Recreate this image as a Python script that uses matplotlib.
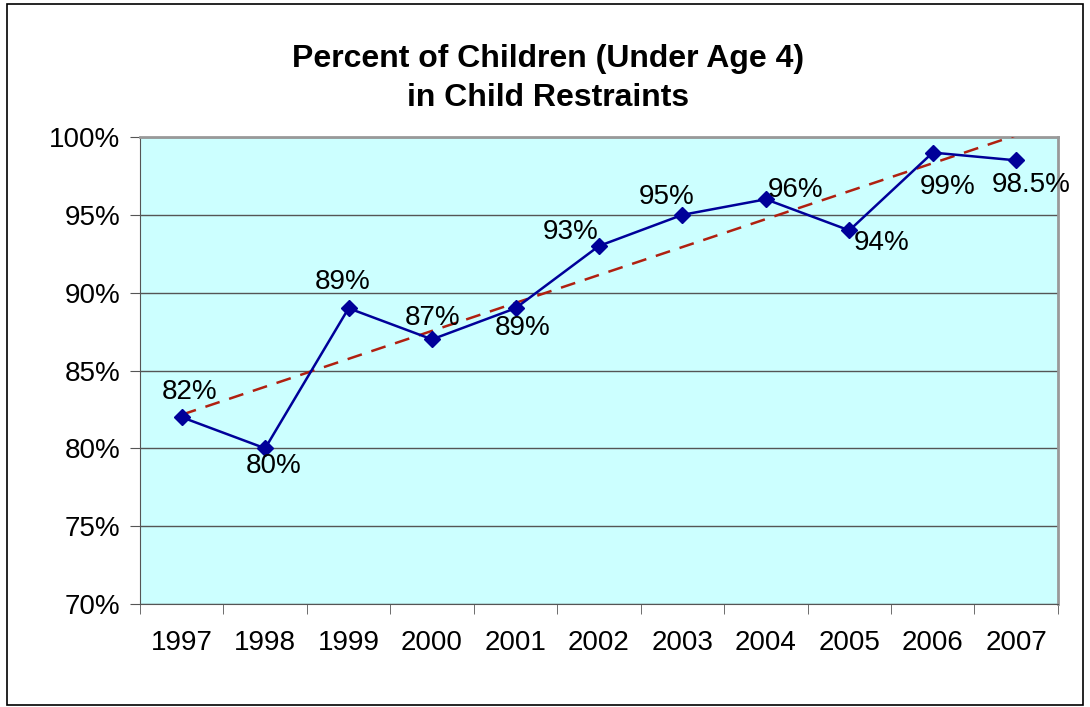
import numpy as np
import matplotlib.pyplot as plt
from matplotlib.patches import Rectangle

plt.rcParams['font.family'] = ['Liberation Sans', 'DejaVu Sans']

years = ['1997', '1998', '1999', '2000', '2001', '2002', '2003', '2004', '2005', '2006', '2007']
percent = [82, 80, 89, 87, 89, 93, 95, 96, 94, 99, 98.5]
labels = ['82%', '80%', '89%', '87%', '89%', '93%', '95%', '96%', '94%', '99%', '98.5%']
# label offsets in pixels (dx, dy)
offsets = [(8, 25), (8, -18), (-6, 26), (1, 21), (7, -20), (-28, 14),
           (-16, 18), (30, 9), (32, -13), (15, -34), (15, -25)]

fig = plt.figure(figsize=(10.9, 7.07), dpi=100)
fig.patches.append(Rectangle((0.006, 0.003), 0.988, 0.992, transform=fig.transFigure,
                             fill=False, edgecolor='black', linewidth=1.2))
ax = fig.add_axes([0.1284, 0.1457, 0.8422, 0.6605])
ax.set_facecolor('#CCFFFF')

x = np.arange(len(years))
ax.plot(x, percent, color='#000099', linewidth=1.8, marker='D', markersize=8, zorder=4)

# linear trendline
k, b = np.polyfit(x, percent, 1)
ax.plot(x, k * x + b, color='#B02010', linewidth=1.8, linestyle=(0, (6, 4)), zorder=3)

for xi, yi, lab, (dx, dy) in zip(x, percent, labels, offsets):
    ax.annotate(lab, (xi, yi), xytext=(dx, dy), textcoords='offset pixels',
                ha='center', va='center', fontsize=20, zorder=5)

ax.set_xlim(-0.5, len(years) - 0.5)
ax.set_ylim(70, 100)
ax.set_yticks(range(70, 101, 5))
ax.set_yticklabels([f'{v}%' for v in range(70, 101, 5)], fontsize=20)
ax.set_xticks(x)
ax.set_xticklabels(years, fontsize=20)
ax.set_xticks(np.arange(-0.5, len(years), 1), minor=True)
ax.tick_params(axis='x', which='major', length=0, pad=19)
ax.tick_params(axis='x', which='minor', length=7, direction='out', color='#555555')
ax.tick_params(axis='y', length=7, direction='out', pad=7, color='#555555')
ax.grid(axis='y', color='#555555', linewidth=1)
ax.set_axisbelow(True)

for s in ['top', 'right']:
    ax.spines[s].set_color('#999999')
    ax.spines[s].set_linewidth(2)
for s in ['left', 'bottom']:
    ax.spines[s].set_color('#555555')

fig.text(0.503, 0.889, 'Percent of Children (Under Age 4)\nin Child Restraints', ha='center', va='center',
         fontsize=23, fontweight='bold', linespacing=1.4)

fig.savefig('out.png', dpi=100)
